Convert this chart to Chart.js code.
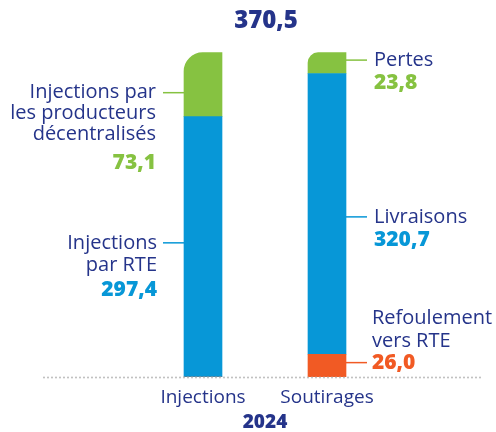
<!DOCTYPE html>
<html><head><meta charset="utf-8">
<script src="https://cdn.jsdelivr.net/npm/chart.js@4"></script>
<style>html,body{margin:0;padding:0;background:#fff}#w{width:496px;height:432px}</style>
</head><body><div id="w"><canvas id="c" width="496" height="432"></canvas></div>
<script>
const categories = ["Injections", "Soutirages"];
const yearLabel = "2024";
const refoulement = [0, 26.0];
const rteLivraisons = [297.4, 320.7];
const decentralPertes = [73.1, 23.8];
const totalLabel = "370,5";
const labelsInjGreen = ["Injections par", "les producteurs", "décentralisés"];
const labelsInjBlue = ["Injections", "par RTE"];
const labelsSouGreen = ["Pertes"];
const labelsSouBlue = ["Livraisons"];
const labelsSouOrange = ["Refoulement", "vers RTE"];

const NAVY = "#25348a", BLUE = "#0797d7", GREEN = "#86c241", ORANGE = "#f15a24";
const FONT = "'Open Sans', sans-serif";
const fmt = v => v.toFixed(1).replace('.', ',');

const annot = {
  id: 'annot',
  afterDatasetsDraw(chart) {
    const ctx = chart.ctx;
    const ca = chart.chartArea;
    ctx.save();
    ctx.fillStyle = "#b5b5b5";
    for (let x = 44; x < 484; x += 4) { ctx.beginPath(); ctx.arc(x, ca.bottom + 0.5, 0.9, 0, Math.PI * 2); ctx.fill(); }
    const m0 = chart.getDatasetMeta(0).data, m1 = chart.getDatasetMeta(1).data, m2 = chart.getDatasetMeta(2).data;
    ctx.fillStyle = NAVY; ctx.font = "800 24px " + FONT; ctx.textAlign = "center"; ctx.textBaseline = "middle";
    ctx.fillText(totalLabel, 266, 21);
    const mid = el => (el.y + el.base) / 2;
    function leader(x1, x2, y, col) { ctx.strokeStyle = col; ctx.lineWidth = 1.5; ctx.beginPath(); ctx.moveTo(x1, y); ctx.lineTo(x2, y); ctx.stroke(); }
    function block(lines, val, col, x, y, align, valGap, lineH, valOnLeader) {
      ctx.textAlign = align; ctx.textBaseline = "middle";
      ctx.font = "400 20px " + FONT; ctx.fillStyle = NAVY;
      let yy = y;
      if (valOnLeader) yy = y - valGap - lineH * (lines.length - 1);
      lines.forEach((t, i) => ctx.fillText(t, x, yy + i * lineH));
      ctx.font = "800 21px " + FONT; ctx.fillStyle = col;
      ctx.fillText(fmt(val), x, yy + (lines.length - 1) * lineH + valGap);
    }
    const ig = m2[0], ib = m1[0];
    const yig = mid(ig) + 8, yib = mid(ib) - 4;
    leader(ig.x - 19 - 21, ig.x - 19, yig, GREEN);
    block(labelsInjGreen, decentralPertes[0], GREEN, 156, yig, "right", 28, 21, false);
    leader(ib.x - 19 - 21, ib.x - 19, yib, BLUE);
    block(labelsInjBlue, rteLivraisons[0], BLUE, 157, yib, "right", 25, 22, false);
    const sg = m2[1], sb = m1[1], so = m0[1];
    const ysg = mid(sg) - 3, ysb = mid(sb) + 3, yso = mid(so) - 3;
    leader(sg.x + 19, sg.x + 19 + 21, ysg, GREEN);
    block(labelsSouGreen, decentralPertes[1], GREEN, 374, ysg, "left", 23, 22, false);
    leader(sb.x + 19, sb.x + 19 + 21, ysb, BLUE);
    block(labelsSouBlue, rteLivraisons[1], BLUE, 374, ysb, "left", 23, 22, false);
    leader(so.x + 19, so.x + 19 + 21, yso, ORANGE);
    block(labelsSouOrange, refoulement[1], ORANGE, 372, yso, "left", 21, 23, true);
    ctx.restore();
  }
};

new Chart(document.getElementById('c'), {
  type: 'bar',
  data: {
    labels: categories,
    datasets: [
      { label: "Refoulement vers RTE", data: refoulement, backgroundColor: ORANGE },
      { label: "Injections par RTE / Livraisons", data: rteLivraisons, backgroundColor: BLUE },
      { label: "Décentralisés / Pertes", data: decentralPertes, backgroundColor: GREEN,
        borderRadius: ctx => ({ topLeft: ctx.dataIndex === 0 ? 22 : 14, topRight: 0, bottomLeft: 0, bottomRight: 0 }),
        borderSkipped: false }
    ]
  },
  options: {
    responsive: false, animation: false,
    layout: { padding: { left: 141, right: 107, top: 40, bottom: 0 } },
    barThickness: 38,
    plugins: { legend: { display: false }, tooltip: { enabled: false } },
    scales: {
      x: { stacked: true, grid: { display: false, drawTicks: false }, border: { display: false },
        afterFit: s => { s.height = 55; },
        ticks: { color: NAVY, font: { family: FONT, size: 19, lineHeight: 1.2 }, padding: 9 },
        title: { display: true, text: yearLabel, color: NAVY, font: { family: FONT, size: 19, weight: '800', lineHeight: 1.0 }, padding: { top: 0, bottom: 0 } } },
      y: { stacked: true, display: false, min: 0, max: 385 }
    }
  },
  plugins: [annot]
});
</script></body></html>
